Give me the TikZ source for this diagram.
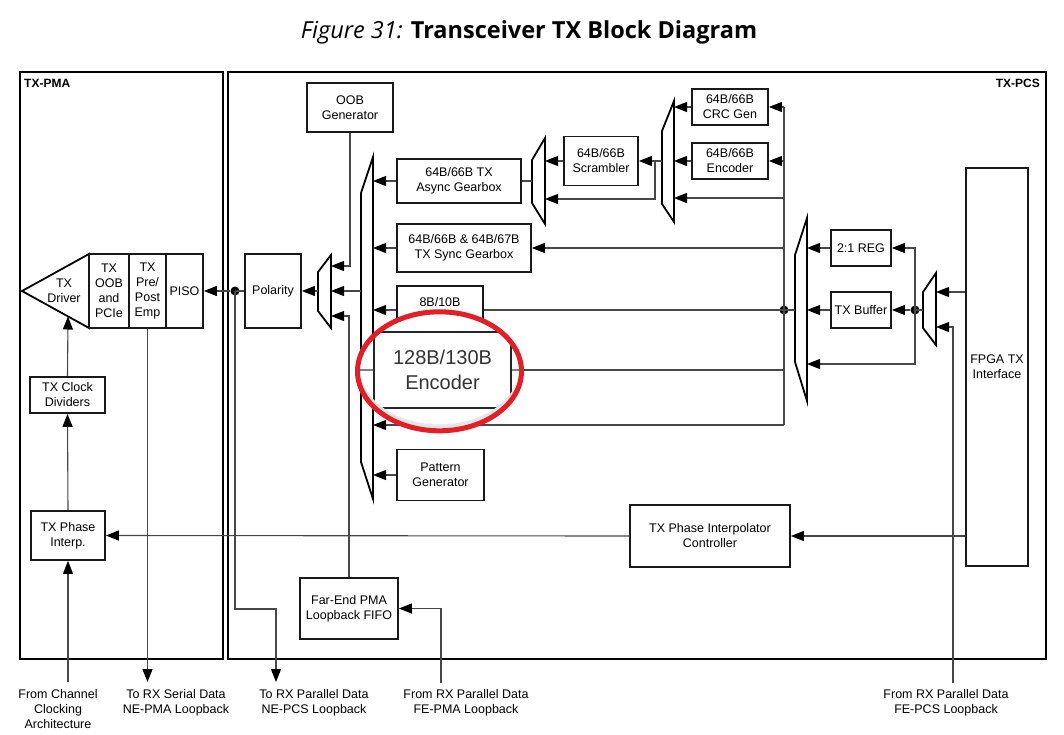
\documentclass[tikz,border=0pt]{standalone}
\usepackage{fontspec}
\setmainfont{Liberation Sans}
\newfontfamily\titlefont{Open Sans}
\usetikzlibrary{arrows.meta,shapes.geometric}
\definecolor{calred}{RGB}{228,30,38}
\begin{document}
\begin{tikzpicture}[x=1pt,y=-1pt,
  txt/.style={font=\fontsize{12.5}{15}\selectfont},
  blk/.style={draw=black!90, line width=1.8pt, fill=white, align=center, inner sep=0pt, txt},
  conn/.style={draw=black!72, line width=1.1pt},
  arr/.style={conn, -{Triangle[length=13pt,width=10pt,color=black]}},
  mux/.style={draw=black, line width=1.8pt, line join=miter, fill=white},
  lbl/.style={align=center, inner sep=0pt, txt},
  dotc/.style={circle, fill=black, inner sep=0pt, minimum size=9pt},
  outer/.style={draw=black, line width=2.4pt, inner sep=0pt}
]
\useasboundingbox (0,0) rectangle (1064,734);
\fill[white] (0,0) rectangle (1064,734);

% title
\node[font=\titlefont\fontsize{23.5}{28}\selectfont] (title) at (529,32) {\textit{Figure 31:} \textbf{Transceiver TX Block Diagram}};

% outer regions
\node[outer, minimum width=203, minimum height=587, anchor=north west] (pma) at (19,71) {};
\node[outer, minimum width=818, minimum height=587, anchor=north west] (pcs) at (227,71) {};
\node[font=\bfseries\fontsize{12}{14}\selectfont, anchor=west, inner sep=0pt] (pmal) at (24,83) {TX-PMA};
\node[font=\bfseries\fontsize{12}{14}\selectfont, anchor=east, inner sep=0pt] (pcsl) at (1040,83) {TX-PCS};

% coordinates on mux edges / bus
\coordinate (pmx) at (331,291); \coordinate (pmo) at (318,291);
\coordinate (pmA) at (331,266); \coordinate (pmC) at (331,316);
\coordinate (bmx) at (373,328); \coordinate (bmo) at (361,291);
\coordinate (m1x) at (545,181); \coordinate (m1o) at (532,181); \coordinate (m1b) at (545,199);
\coordinate (m2x) at (674,161); \coordinate (m2o) at (662,161); \coordinate (m2c) at (674,198);
\coordinate (m3x) at (807,310); \coordinate (m3o) at (795,310); \coordinate (m3b) at (807,364);
\coordinate (m4x) at (936,310); \coordinate (m4o) at (923,310);
\coordinate (m4a) at (936,292); \coordinate (m4b) at (936,327);
\coordinate (bt) at (784,107); \coordinate (bb) at (784,425);
\coordinate (jn) at (655,161);
\coordinate (e128) at (520,370);
\coordinate (drvb) at (68,316.5);
\coordinate (chclk) at (68,682);
\coordinate (nepma) at (147.5,682);
\coordinate (nepcs) at (276,682);
\coordinate (fepma) at (441,683);
\coordinate (fepcs) at (953,683);

% blocks
\node[blk, minimum width=86, minimum height=49] (oob) at (350,107.5) {OOB\\Generator};
\node[blk, minimum width=124, minimum height=44] (async) at (459,181) {64B/66B TX\\Async Gearbox};
\node[blk, minimum width=134, minimum height=48] (sync) at (464,248) {64B/66B \& 64B/67B\\TX Sync Gearbox};
\node[blk, minimum width=86, minimum height=48] (enc8) at (440,310) {8B/10B\\Encoder};
\node[blk, minimum width=87, minimum height=51] (patt) at (440.5,475) {Pattern\\Generator};
\node[blk, minimum width=74, minimum height=49] (scr) at (601,161) {64B/66B\\Scrambler};
\node[blk, minimum width=76, minimum height=36] (crc) at (730,107) {64B/66B\\CRC Gen};
\node[blk, minimum width=76, minimum height=36] (enc66) at (730,161) {64B/66B\\Encoder};
\node[blk, minimum width=60, minimum height=36] (reg) at (861,248) {2:1 REG};
\node[blk, minimum width=60, minimum height=36] (buf) at (861,310) {TX Buffer};
\node[blk, minimum width=62, minimum height=398] (fpga) at (997,367) {FPGA TX\\Interface};
\node[blk, minimum width=160, minimum height=62] (ctrl) at (710,536) {TX Phase Interpolator\\Controller};
\node[blk, minimum width=98, minimum height=61] (fifo) at (349,608.5) {Far-End PMA\\Loopback FIFO};
\node[blk, minimum width=56, minimum height=74] (pol) at (273,291) {Polarity};
\draw[mux] (22,291) -- (89,254) -- (89,328) -- cycle;
\node[lbl] (drv) at (64,291) {TX\\Driver};
\node[blk, minimum width=40, minimum height=74] (oobp) at (109,291) {TX\\OOB\\and\\PCIe};
\node[blk, minimum width=37, minimum height=74] (pre) at (147.5,291) {TX\\Pre/\\Post\\Emp};
\node[blk, minimum width=37, minimum height=74] (piso) at (184.5,291) {PISO};
\node[blk, minimum width=75, minimum height=36] (clk) at (67.5,395) {TX Clock\\Dividers};
\node[blk, minimum width=74, minimum height=49] (pi) at (68,535.5) {TX Phase\\Interp.};

% muxes
\draw[mux] (331,255) -- (331,328) -- (318,311) -- (318,272) -- cycle;
\draw[mux] (373,157) -- (373,499) -- (361,462) -- (361,193) -- cycle;
\draw[mux] (545,138) -- (545,224) -- (532,203) -- (532,160) -- cycle;
\draw[mux] (674,101) -- (674,222) -- (662,204) -- (662,131) -- cycle;
\draw[mux] (807,218) -- (807,401) -- (795,362) -- (795,255) -- cycle;
\draw[mux] (936,273) -- (936,345) -- (923,328) -- (923,292) -- cycle;

% dots
\node[dotc] (d1) at (235,291) {};
\node[dotc] (d2) at (784,310) {};
\node[dotc] (d3) at (915,310) {};

% connectors: polarity section
\draw[arr] (oob.south) |- (pmA);
\draw[arr] (bmo) -- (pmx);
\draw[arr] (fifo.north) |- (pmC);
\draw[arr] (pmo) -- (pol.east);
\draw[conn] (pol.west) -- (d1.center);
\draw[arr] (d1) -- (piso.east);
\draw[arr] (d1.center) -- ++(0,318) -| (nepcs);

% big mux inputs
\draw[arr] (async.west) -- (async.west -| bmx);
\draw[arr] (sync.west) -- (sync.west -| bmx);
\draw[arr] (enc8.west) -- (enc8.west -| bmx);
\draw[arr] (patt.west) -- (patt.west -| bmx);
\draw[arr] (bb) -- (bb -| bmx);

% bus
\draw[conn] (bt) -- (bb);
\draw[arr] (bt) -- (crc.east);
\draw[arr] (enc66.east -| bt) -- (enc66.east);
\draw[arr] (bt |- m2c) -- (m2c);
\draw[arr] (sync.east -| bt) -- (sync.east);
\draw[conn] (d2.center) -- (enc8.east);
\draw[conn] (m3o) -- (d2.center);
\draw[conn] (bt |- e128) -- (e128);

% scrambler path
\draw[conn] (m1o) -- (async.east);
\draw[arr] (scr.west) -- (scr.west -| m1x);
\draw[arr] (m2o) -- (scr.east);
\draw[arr] (jn) |- (m1b);
\draw[arr] (crc.west) -- (crc.west -| m2x);
\draw[arr] (enc66.west) -- (enc66.west -| m2x);

% right side
\draw[arr] (reg.west) -- (reg.west -| m3x);
\draw[arr] (buf.west) -- (buf.west -| m3x);
\draw[arr] (d3) -- (buf.east);
\draw[arr] (d3.center) |- (reg.east);
\draw[arr] (d3.center) |- (m3b);
\draw[conn] (m4o) -- (d3.center);
\draw[arr] (fpga.west |- m4a) -- (m4a);
\draw[arr] (fepcs) |- (m4b);
\draw[arr] (fpga.west |- ctrl.east) -- (ctrl.east);
\draw[arr] (ctrl.west) -- (pi.east);

% PMA side
\draw[arr] (chclk) -- (pi.south);
\draw[arr] (pi.north) -- (clk.south);
\draw[arr] (clk.north) -- (drvb);
\draw[arr] (pre.south) -- (nepma);
\draw[arr] (fepma) |- (fifo.east);

% bottom labels
\node[lbl, anchor=north] (l1) at (58,689) {From Channel\\Clocking\\Architecture};
\node[lbl, anchor=north] (l2) at (176,689) {To RX Serial Data\\NE-PMA Loopback};
\node[lbl, anchor=north] (l3) at (314,689) {To RX Parallel Data\\NE-PCS Loopback};
\node[lbl, anchor=north] (l4) at (466,689) {From RX Parallel Data\\FE-PMA Loopback};
\node[lbl, anchor=north] (l5) at (946,689) {From RX Parallel Data\\FE-PCS Loopback};

% magnified callout
\node[ellipse, fill=white, inner sep=0pt, minimum width=164, minimum height=119] (ell) at (439.5,371.3) {};
\begin{scope}
  \clip (439.5,371.3) ellipse [x radius=82, y radius=59.5];
  \draw[conn, black!50] (350,370) -- (374,370);
  \draw[conn, black!50] (511,370) -- (530,370);
  \node[draw=black!85, line width=2.6pt, fill=white, minimum width=137, minimum height=76, inner sep=0pt,
        font=\fontsize{20}{25}\selectfont, text=black!80, align=center] (enc128) at (442.5,370) {128B/130B\\Encoder};
  \draw[black!10, line width=4pt] (439.5,367) ellipse [x radius=82, y radius=59.5];
\end{scope}
\draw[calred, line width=5pt] (ell.center) ellipse [x radius=82, y radius=59.5];
\end{tikzpicture}
\end{document}
